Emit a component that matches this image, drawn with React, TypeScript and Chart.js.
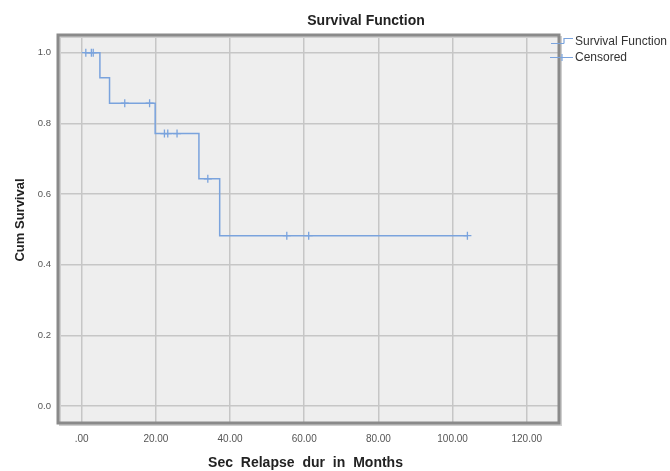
import React, { useEffect, useRef } from 'react';
import { Chart, registerables } from 'chart.js';

Chart.register(...registerables);

// Kaplan-Meier step points (time in months, cumulative survival)
const eventTimes = [0.8, 4.9, 7.5, 19.8, 31.6, 37.2, 104.0];
const survivalValues = [1.0, 0.929, 0.857, 0.771, 0.643, 0.482, 0.482];

// Censored observations
const censoredTimes = [1.1, 2.6, 3.1, 11.6, 18.3, 22.3, 23.2, 25.7, 34.0, 55.3, 61.2, 104.0];
const censoredValues = [1.0, 1.0, 1.0, 0.857, 0.857, 0.771, 0.771, 0.771, 0.643, 0.482, 0.482, 0.482];

const xTickValues = [0, 20, 40, 60, 80, 100, 120];
const xTickLabels = ['.00', '20.00', '40.00', '60.00', '80.00', '100.00', '120.00'];
const yTickValues = [0, 0.2, 0.4, 0.6, 0.8, 1.0];
const yTickLabels = ['0.0', '0.2', '0.4', '0.6', '0.8', '1.0'];

const chartTitle = 'Survival Function';
const xTitle = 'Sec Relapse dur in Months';
const yTitle = 'Cum Survival';
const legendLabels = ['Survival Function', 'Censored'];

const LINE_COLOR = '#7aa3dd';
const FONT = '"Liberation Sans", Arial, sans-serif';

const decorPlugin = {
  id: 'decor',
  beforeDraw(chart: any) {
    const { ctx, chartArea } = chart;
    ctx.save();
    ctx.fillStyle = '#ffffff';
    ctx.fillRect(0, 0, chart.width, chart.height);
    ctx.fillStyle = '#eeeeee';
    ctx.fillRect(chartArea.left, chartArea.top, chartArea.right - chartArea.left, chartArea.bottom - chartArea.top);
    ctx.restore();
  },
  afterDraw(chart: any) {
    const { ctx, chartArea } = chart;
    const { left, top, right, bottom } = chartArea;
    ctx.save();
    // frame shadow
    ctx.strokeStyle = '#cfcfcf';
    ctx.lineWidth = 2;
    ctx.strokeRect(left + 2, top + 2, right - left, bottom - top);
    // frame
    ctx.strokeStyle = '#8a8a8a';
    ctx.lineWidth = 3;
    ctx.strokeRect(left, top, right - left, bottom - top);

    // title
    ctx.fillStyle = '#222';
    ctx.textAlign = 'center';
    ctx.textBaseline = 'middle';
    ctx.font = `bold 14px ${FONT}`;
    ctx.fillText(chartTitle, 366, 21);

    // x title
    ctx.font = `bold 14px ${FONT}`;
    try { (ctx as any).wordSpacing = '4px'; } catch (e) {}
    ctx.fillText(xTitle, (left + right) / 2 - 3, 463);
    try { (ctx as any).wordSpacing = '0px'; } catch (e) {}

    // y title
    ctx.save();
    ctx.translate(20, (top + bottom) / 2 - 9);
    ctx.rotate(-Math.PI / 2);
    ctx.font = `bold 13px ${FONT}`;
    ctx.fillText(yTitle, 0, 0);
    ctx.restore();

    // legend
    ctx.strokeStyle = LINE_COLOR;
    ctx.lineWidth = 1.2;
    ctx.beginPath();
    ctx.moveTo(551, 43.5);
    ctx.lineTo(564, 43.5);
    ctx.moveTo(564, 43.5);
    ctx.lineTo(564, 38.5);
    ctx.lineTo(573, 38.5);
    ctx.stroke();
    ctx.beginPath();
    ctx.moveTo(550, 57.5);
    ctx.lineTo(573, 57.5);
    ctx.moveTo(562, 54);
    ctx.lineTo(562, 61);
    ctx.stroke();
    ctx.fillStyle = '#333';
    ctx.textAlign = 'left';
    ctx.font = `12px ${FONT}`;
    ctx.fillText(legendLabels[0], 575, 42);
    ctx.fillText(legendLabels[1], 575, 58);
    ctx.restore();
  },
};

export default function App() {
  const canvasRef = useRef<HTMLCanvasElement | null>(null);

  useEffect(() => {
    if (!canvasRef.current) return;
    const chart = new Chart(canvasRef.current, {
      type: 'scatter',
      data: {
        datasets: [
          {
            label: legendLabels[0],
            data: eventTimes.map((t, i) => ({ x: t, y: survivalValues[i] })),
            showLine: true,
            stepped: 'before',
            borderColor: LINE_COLOR,
            borderWidth: 1.5,
            pointRadius: 0,
            fill: false,
          },
          {
            label: legendLabels[1],
            data: censoredTimes.map((t, i) => ({ x: t, y: censoredValues[i] })),
            showLine: false,
            pointStyle: 'cross',
            pointRadius: 4,
            borderColor: LINE_COLOR,
            pointBorderWidth: 1.3,
          },
        ],
      },
      options: {
        responsive: false,
        animation: false,
        layout: { padding: { left: 0, right: 111, top: 35, bottom: 0 } },
        plugins: {
          legend: { display: false },
          tooltip: { enabled: false },
          title: { display: false },
        },
        scales: {
          x: {
            type: 'linear',
            min: -6.4,
            max: 128.7,
            afterBuildTicks: (scale: any) => {
              scale.ticks = xTickValues.map((v) => ({ value: v }));
            },
            afterFit: (scale: any) => {
              scale.height = 48;
              scale.paddingLeft = 0;
              scale.paddingRight = 0;
            },
            border: { display: false },
            grid: { color: '#c6c6c6', lineWidth: 1.5, drawTicks: false },
            ticks: {
              padding: 10,
              color: '#555',
              font: { family: FONT, size: 10 },
              maxRotation: 0,
              autoSkip: false,
              callback: (v: any) => {
                const i = xTickValues.indexOf(Number(v));
                return i >= 0 ? xTickLabels[i] : '';
              },
            },
          },
          y: {
            type: 'linear',
            min: -0.048,
            max: 1.05,
            afterBuildTicks: (scale: any) => {
              scale.ticks = yTickValues.map((v) => ({ value: v }));
            },
            afterFit: (scale: any) => {
              scale.width = 58;
              scale.paddingTop = 0;
              scale.paddingBottom = 0;
            },
            border: { display: false },
            grid: { color: '#c6c6c6', lineWidth: 1.5, drawTicks: false },
            ticks: {
              padding: 7,
              color: '#555',
              font: { family: FONT, size: 9.5 },
              autoSkip: false,
              callback: (v: any) => {
                const i = yTickValues.findIndex((t) => Math.abs(t - Number(v)) < 1e-9);
                return i >= 0 ? yTickLabels[i] : '';
              },
            },
          },
        },
      },
      plugins: [decorPlugin],
    });
    return () => chart.destroy();
  }, []);

  return (
    <div style={{ position: 'absolute', left: 0, top: 0, width: 670, height: 471 }}>
      <canvas ref={canvasRef} width={670} height={471} style={{ width: 670, height: 471 }} />
    </div>
  );
}
